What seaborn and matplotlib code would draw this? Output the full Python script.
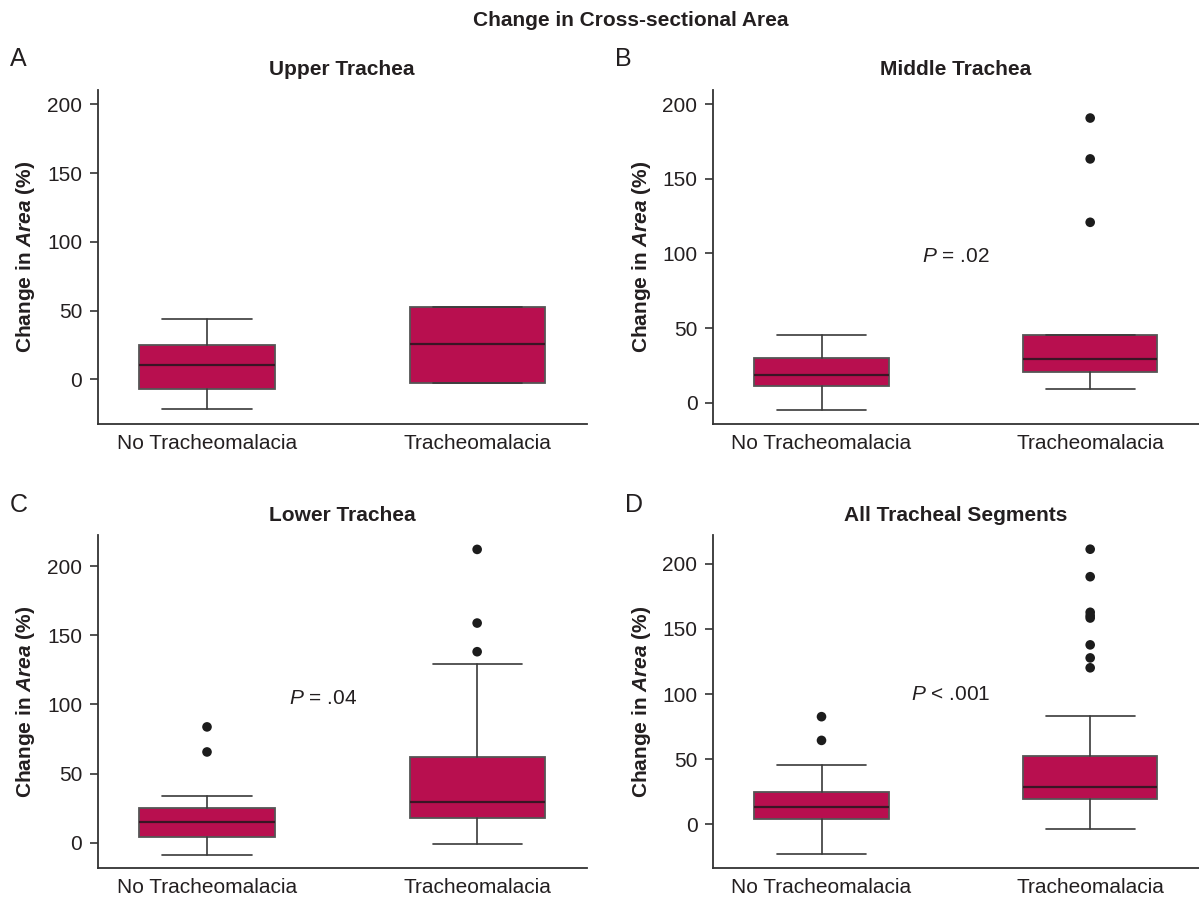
import matplotlib
matplotlib.use("Agg")
import matplotlib.pyplot as plt
import matplotlib.transforms as mtransforms
import seaborn as sns

# Plot styling
sns.set_theme(style="ticks")
plt.rcParams["font.family"] = ["Liberation Sans", "DejaVu Sans"]
plt.rcParams["mathtext.fontset"] = "custom"
plt.rcParams["mathtext.rm"] = "Liberation Sans"
plt.rcParams["mathtext.it"] = "Liberation Sans:italic"
plt.rcParams["mathtext.bf"] = "Liberation Sans:bold"
plt.rcParams["mathtext.bfit"] = "Liberation Sans:italic:bold"

TEXT = "#231f20"
BOX = "#b80f4f"

titles = ["Upper Trachea", "Middle Trachea", "Lower Trachea", "All Tracheal Segments"]
letters = ["A", "B", "C", "D"]
groups = ["No Tracheomalacia", "Tracheomalacia"]

# box stats, one value per panel (A, B, C, D)
no_whislo = [-21.8, -4.9, -8.4, -22.4]
no_q1 = [-6.8, 10.9, 4.6, 4.3]
no_med = [10.4, 18.5, 14.9, 13.3]
no_q3 = [24.8, 29.7, 25.5, 25.0]
no_whishi = [43.7, 45.4, 33.9, 45.4]
no_outliers = [[], [], [83.8, 65.7], [82.7, 64.5]]

tm_whislo = [-2.4, 9.4, -1.0, -3.3]
tm_q1 = [-2.4, 20.3, 18.3, 19.6]
tm_med = [25.5, 29.5, 29.4, 29.1]
tm_q3 = [52.9, 45.4, 62.3, 52.6]
tm_whishi = [52.9, 45.4, 129.0, 83.2]
tm_outliers = [[], [190.8, 163.4, 120.9], [212.0, 158.8, 138.1],
               [211.2, 190.1, 162.8, 160.2, 158.4, 137.8, 127.8, 120.2]]

p_labels = [None, "= .02", "= .04", "< .001"]
yticks = [0, 50, 100, 150, 200]

# layout (figure fractions, data positions)
ylims = [(-32.5, 210.5), (-14.3, 209.6), (-18.1, 222.4), (-33.4, 222.1)]
rects = [
    (0.0814, 0.5284, 0.4078, 0.3715),
    (0.5944, 0.5284, 0.4056, 0.3715),
    (0.0814, 0.0345, 0.4078, 0.3704),
    (0.5944, 0.0345, 0.4056, 0.3704),
]
letter_pos = [(10, 59), (615, 59), (10, 505), (625, 505)]
p_pos = [None, (0.50, 98), (0.43, 104.5), (0.48, 99.7)]

fig = plt.figure(figsize=(11.99, 8.99), dpi=100)
W, H = 1199, 899

fig.text(631 / W, 1 - 20 / H, "Change in Cross-sectional Area", ha="center", va="center",
         fontsize=15, fontweight="bold", color=TEXT)

for i in range(4):
    ax = fig.add_axes(rects[i])
    stats = [
        dict(med=no_med[i], q1=no_q1[i], q3=no_q3[i], whislo=no_whislo[i], whishi=no_whishi[i], fliers=[]),
        dict(med=tm_med[i], q1=tm_q1[i], q3=tm_q3[i], whislo=tm_whislo[i], whishi=tm_whishi[i], fliers=[]),
    ]
    ax.bxp(stats, positions=[0, 1], widths=0.5, capwidths=0.33, patch_artist=True,
           showfliers=False, manage_ticks=False,
           boxprops=dict(facecolor=BOX, edgecolor="#555555", linewidth=1.3),
           medianprops=dict(color="#3a1525", linewidth=1.6),
           whiskerprops=dict(color="#3a3a3a", linewidth=1.2),
           capprops=dict(color="#3a3a3a", linewidth=1.2))

    ox = [0] * len(no_outliers[i]) + [1] * len(tm_outliers[i])
    oy = no_outliers[i] + tm_outliers[i]
    if oy:
        sns.scatterplot(x=ox, y=oy, ax=ax, color="#1c1c1c", s=48, edgecolor="none",
                        zorder=3, legend=False)

    ax.set_xlim(-0.405, 1.405)
    ax.set_ylim(*ylims[i])
    ax.set_xticks([0, 1])
    ax.set_xticklabels(groups)
    ax.set_yticks(yticks)
    ax.tick_params(axis="x", length=0, pad=7, labelsize=15, labelcolor=TEXT)
    ax.tick_params(axis="y", length=6, width=1.2, pad=5, color="#333333",
                   labelsize=15, labelcolor=TEXT)
    sns.despine(ax=ax)
    for s in ["left", "bottom"]:
        ax.spines[s].set_color("#333333")
        ax.spines[s].set_linewidth(1.3)
    ax.grid(False)

    ax.set_xlabel("")
    ax.set_ylabel(r"Change in $\bfit{Area}$ (%)", fontsize=15, fontweight="bold", color=TEXT)
    ax.yaxis.set_label_coords(-0.123, 0.5)

    trans = mtransforms.blended_transform_factory(ax.transData, ax.transAxes)
    ax.text(0.5, 1.06, titles[i], transform=trans, ha="center", va="center",
            fontsize=15, fontweight="bold", color=TEXT)

    if p_labels[i]:
        px, py = p_pos[i]
        ax.text(px, py, r"$\mathit{P}$ " + p_labels[i], ha="center", va="center",
                fontsize=15, color=TEXT)

    lx, ly = letter_pos[i]
    fig.text(lx / W, 1 - ly / H, letters[i], ha="left", va="center", fontsize=18, color=TEXT)

fig.savefig("out.png", dpi=100)
